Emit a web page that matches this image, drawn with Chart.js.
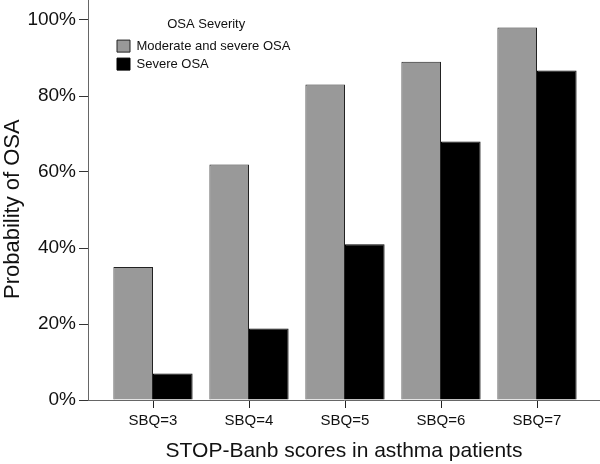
<!DOCTYPE html>
<html lang="en">
<head>
    <meta charset="UTF-8">
    <title>Probability of OSA</title>
    <script src="https://cdn.jsdelivr.net/npm/chart.js"></script>
    <style>
        html, body { margin: 0; padding: 0; background: #fff; }
        #wrap { width: 600px; height: 464px; }
    </style>
</head>
<body>
    <div id="wrap"><canvas id="osaChart"></canvas></div>

    <script>
        // SBQ scores (categories)
        const scores = [3, 4, 5, 6, 7];
        const scoreLabels = ["SBQ=3", "SBQ=4", "SBQ=5", "SBQ=6", "SBQ=7"];

        // Probability of OSA (%)
        const moderateSevere = [35, 62, 83, 89, 98];
        const severe = [7, 18.8, 41, 68, 86.7];

        const yTicks = [0, 20, 40, 60, 80, 100];

        const font = "'Liberation Sans', Arial, Helvetica, sans-serif";

        // shift the legend a bit to the right inside the plot
        const legendShift = {
            id: 'legendShift',
            afterLayout(chart) {
                chart.legend.left += 24;
                chart.legend.right += 24;
            }
        };

        new Chart("osaChart", {
            type: "bar",
            data: {
                datasets: [{
                    label: "Moderate and severe OSA",
                    data: scores.map((s, i) => ({ x: s, y: moderateSevere[i] })),
                    backgroundColor: "#999999",
                    borderColor: "#222",
                    borderWidth: 1
                }, {
                    label: "Severe OSA",
                    data: scores.map((s, i) => ({ x: s, y: severe[i] })),
                    backgroundColor: "#000",
                    borderColor: "#000",
                    borderWidth: 1
                }]
            },
            options: {
                responsive: true,
                maintainAspectRatio: false,
                animation: false,
                categoryPercentage: 0.825,
                barPercentage: 1,
                layout: { padding: 0 },
                plugins: {
                    tooltip: { enabled: false },
                    legend: {
                        position: 'chartArea',
                        align: 'start',
                        title: {
                            display: true,
                            text: 'OSA Severity',
                            color: '#111',
                            font: { family: font, size: 13 },
                            padding: { top: 18, bottom: 1 }
                        },
                        labels: {
                            color: '#111',
                            font: { family: font, size: 13 },
                            boxWidth: 13,
                            boxHeight: 12,
                            padding: 5
                        }
                    }
                },
                scales: {
                    x: {
                        type: 'linear',
                        offset: false,
                        min: 3 - 65 / 96,
                        max: 7 + 63 / 96,
                        afterBuildTicks: (scale) => {
                            scale.ticks = scores.map(v => ({ value: v }));
                        },
                        afterFit: (scale) => {
                            scale.height = 64;
                            scale.paddingLeft = 0;
                            scale.paddingRight = 0;
                        },
                        grid: {
                            offset: false,
                            drawOnChartArea: false,
                            drawTicks: true,
                            tickLength: 8,
                            lineWidth: 1,
                            color: '#222'
                        },
                        border: { color: '#666', width: 1 },
                        ticks: {
                            color: '#111',
                            font: { family: font, size: 15 },
                            padding: 4,
                            maxRotation: 0,
                            callback: (v) => scoreLabels[scores.indexOf(v)]
                        },
                        title: {
                            display: true,
                            text: 'STOP-Banb scores in asthma patients',
                            color: '#111',
                            font: { family: font, size: 21 },
                            padding: { top: 1, bottom: 0 }
                        }
                    },
                    y: {
                        min: 0,
                        max: 100 * 400 / 380,
                        afterBuildTicks: (scale) => {
                            scale.ticks = yTicks.map(v => ({ value: v }));
                        },
                        afterFit: (scale) => {
                            scale.width = 88;
                            scale.paddingTop = 0;
                            scale.paddingBottom = 0;
                        },
                        grid: {
                            drawOnChartArea: false,
                            drawTicks: true,
                            tickLength: 9,
                            color: '#333'
                        },
                        border: { color: '#666', width: 1 },
                        ticks: {
                            color: '#111',
                            font: { family: font, size: 19 },
                            padding: 3,
                            callback: (v) => v + '%'
                        },
                        title: {
                            display: true,
                            text: 'Probability of OSA   ',
                            color: '#111',
                            font: { family: font, size: 22 },
                            padding: { top: 0, bottom: 0 }
                        }
                    }
                }
            },
            plugins: [legendShift]
        });
    </script>
</body>
</html>
